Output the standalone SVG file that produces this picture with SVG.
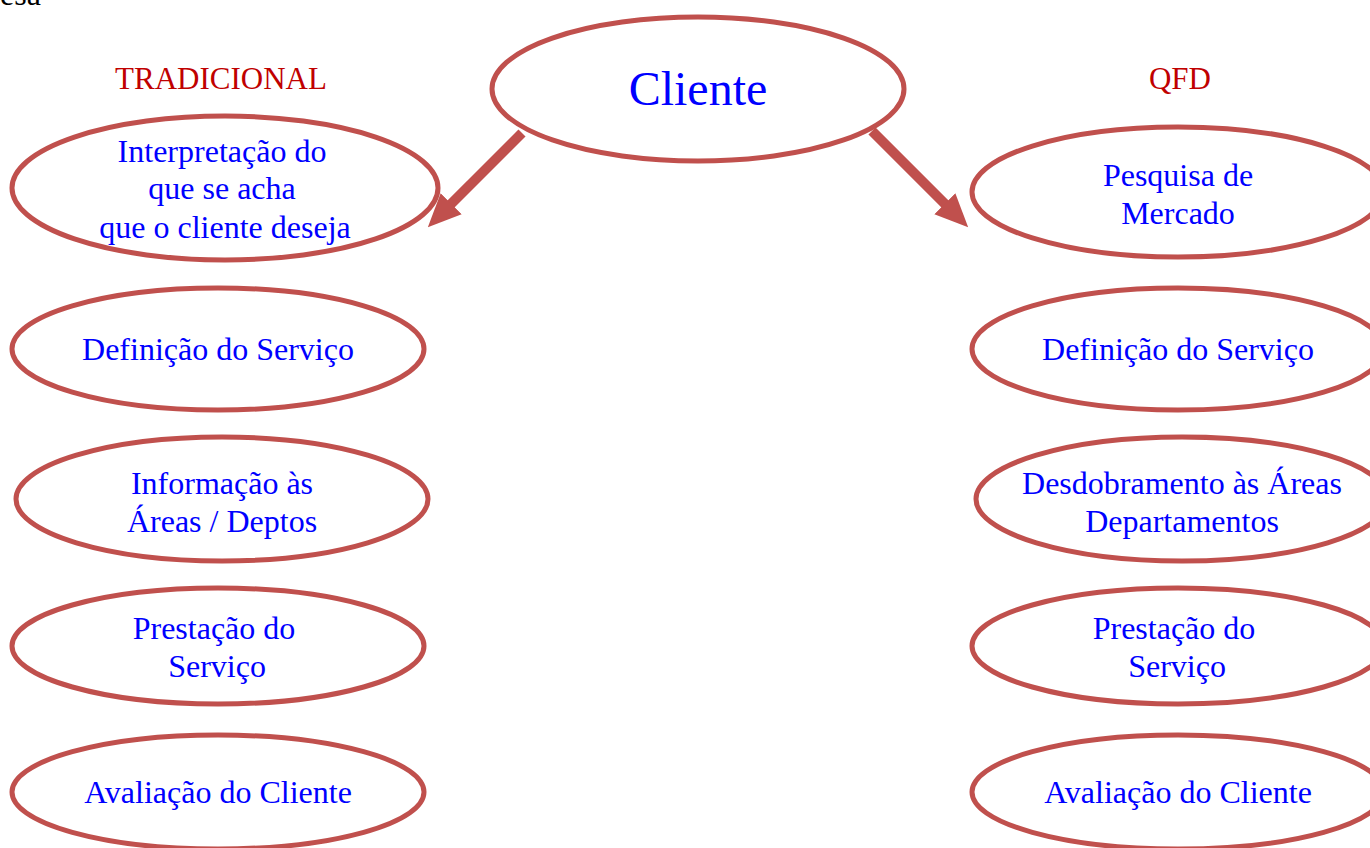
<svg xmlns="http://www.w3.org/2000/svg" width="1370" height="848" viewBox="0 0 1370 848">
  <defs>
    <style>
      .oval { fill: #FFFFFF; stroke: #C0504D; stroke-width: 5; }
      .lbl { font-family: "Liberation Serif", "Times New Roman", serif; font-size: 32px; fill: #0000FF; text-anchor: middle; }
      .big { font-size: 48px; }
      .head { font-family: "Liberation Serif", "Times New Roman", serif; font-size: 31px; fill: #C00000; text-anchor: middle; }
      .conn { stroke: #C0504D; stroke-width: 10; fill: none; }
    </style>
    <!-- arrowhead starts at the end of the shaft and runs forward -->
    <marker id="arrow" viewBox="0 0 10 10" refX="0.5" refY="5" markerWidth="3.3" markerHeight="3.3" orient="auto" markerUnits="strokeWidth">
      <path d="M0,0.5 L10,5 L0,9.5 Z" fill="#C0504D"/>
    </marker>
  </defs>

  <rect width="1370" height="848" fill="#FFFFFF"/>

  <text x="0" y="5" font-family="Liberation Serif, serif" font-size="32" fill="#000000">esa</text>

  <text class="head" x="221" y="89">TRADICIONAL</text>
  <text class="head" x="1180" y="89">QFD</text>

  <g id="connectors">
    <line class="conn" x1="522" y1="133" x2="450" y2="205" marker-end="url(#arrow)"/>
    <line class="conn" x1="872" y1="131" x2="946" y2="205" marker-end="url(#arrow)"/>
  </g>

  <g id="cliente">
    <ellipse class="oval" cx="698" cy="89" rx="206" ry="72"/>
    <text class="lbl big" x="698" y="105">Cliente</text>
  </g>

  <g id="trad-interpretacao">
    <ellipse class="oval" cx="225" cy="188" rx="213" ry="72"/>
    <text class="lbl" x="222" y="162">Interpretação do</text>
    <text class="lbl" x="222" y="199">que se acha</text>
    <text class="lbl" x="225" y="238">que o cliente deseja</text>
  </g>

  <g id="trad-definicao">
    <ellipse class="oval" cx="218" cy="349" rx="206" ry="61"/>
    <text class="lbl" x="218" y="360">Definição do Serviço</text>
  </g>

  <g id="trad-informacao">
    <ellipse class="oval" cx="222" cy="499" rx="206" ry="62"/>
    <text class="lbl" x="222" y="494">Informação às</text>
    <text class="lbl" x="222" y="532">Áreas / Deptos</text>
  </g>

  <g id="trad-prestacao">
    <ellipse class="oval" cx="218" cy="646" rx="206" ry="58"/>
    <text class="lbl" x="214" y="639">Prestação do</text>
    <text class="lbl" x="217" y="677">Serviço</text>
  </g>

  <g id="trad-avaliacao">
    <ellipse class="oval" cx="218" cy="792" rx="206" ry="57"/>
    <text class="lbl" x="218" y="803">Avaliação do Cliente</text>
  </g>

  <g id="qfd-pesquisa">
    <ellipse class="oval" cx="1178" cy="192" rx="206" ry="65"/>
    <text class="lbl" x="1178" y="186">Pesquisa de</text>
    <text class="lbl" x="1178" y="224">Mercado</text>
  </g>

  <g id="qfd-definicao">
    <ellipse class="oval" cx="1178" cy="349" rx="206" ry="61"/>
    <text class="lbl" x="1178" y="360">Definição do Serviço</text>
  </g>

  <g id="qfd-desdobramento">
    <ellipse class="oval" cx="1182" cy="499" rx="206" ry="62"/>
    <text class="lbl" x="1182" y="494">Desdobramento às Áreas</text>
    <text class="lbl" x="1182" y="532">Departamentos</text>
  </g>

  <g id="qfd-prestacao">
    <ellipse class="oval" cx="1178" cy="646" rx="206" ry="58"/>
    <text class="lbl" x="1174" y="639">Prestação do</text>
    <text class="lbl" x="1177" y="677">Serviço</text>
  </g>

  <g id="qfd-avaliacao">
    <ellipse class="oval" cx="1178" cy="792" rx="206" ry="57"/>
    <text class="lbl" x="1178" y="803">Avaliação do Cliente</text>
  </g>
</svg>
